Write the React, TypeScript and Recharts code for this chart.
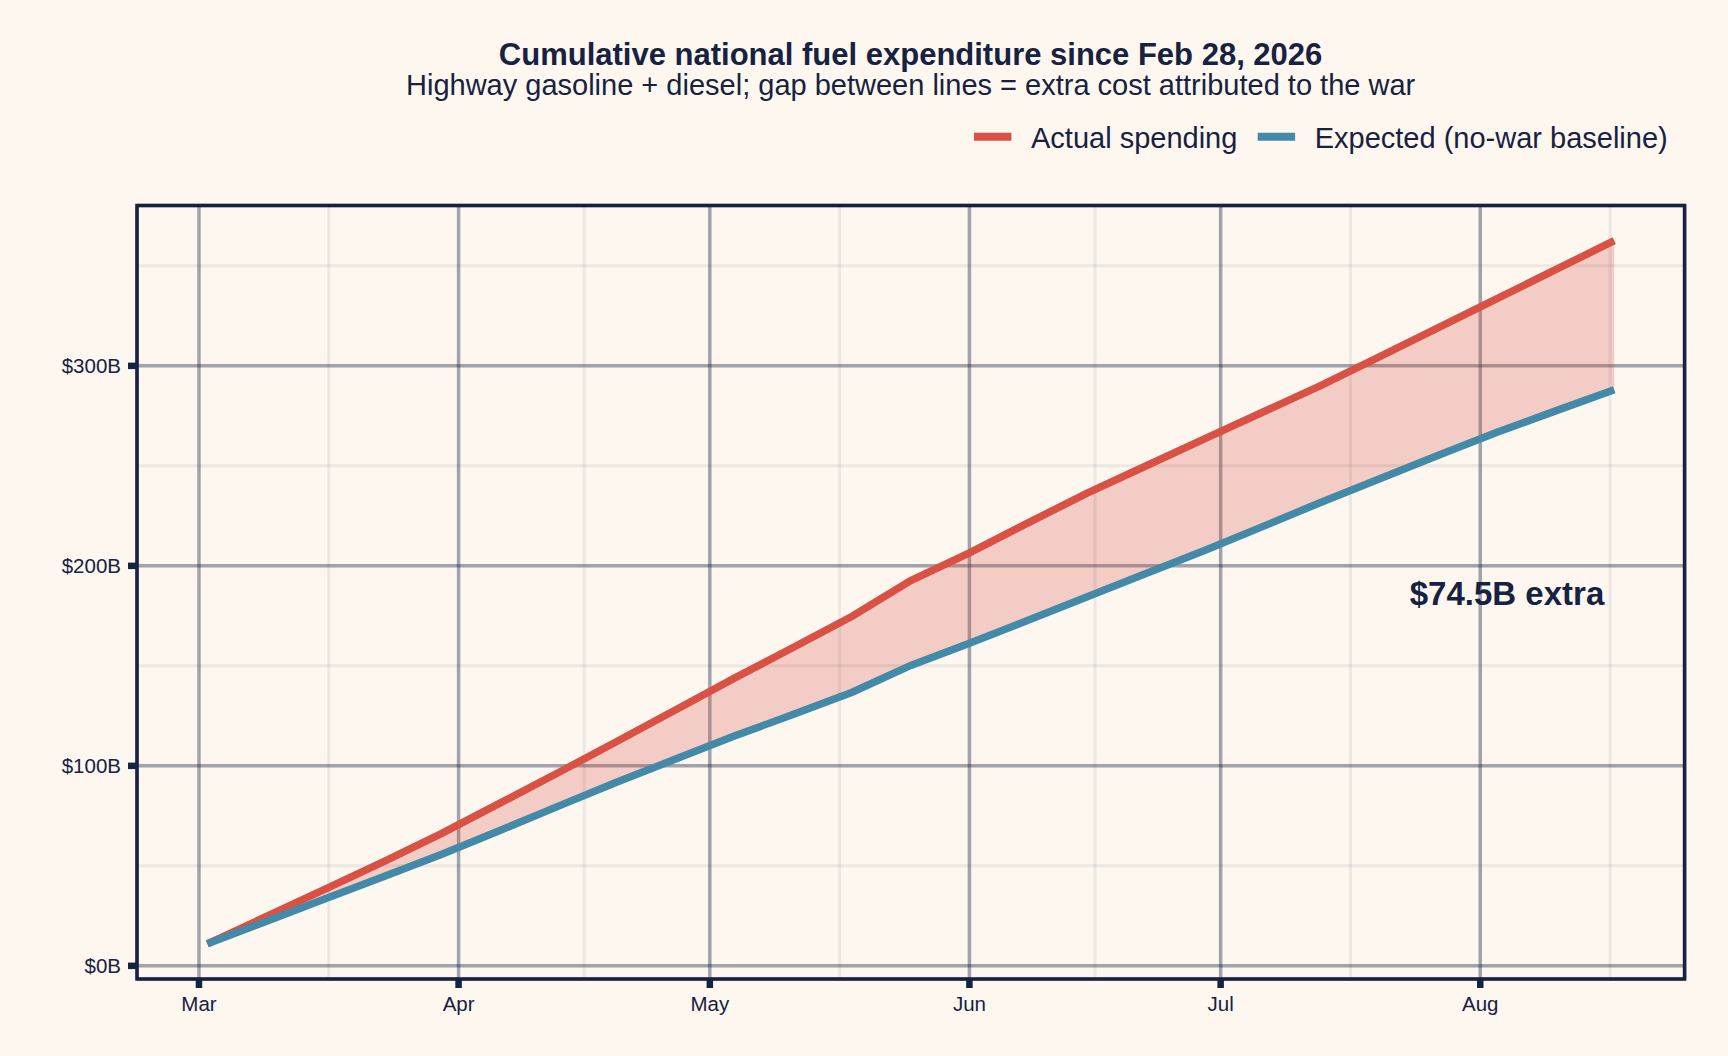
import {
  ComposedChart,
  Area,
  Line,
  XAxis,
  YAxis,
  CartesianGrid,
  ReferenceLine,
  ReferenceArea,
  ReferenceDot,
} from "recharts";

// weekly cumulative spending, $ billions
const weekDates = [
  "2026-03-02", "2026-03-09", "2026-03-16", "2026-03-23", "2026-03-30",
  "2026-04-06", "2026-04-13", "2026-04-20", "2026-04-27", "2026-05-04",
  "2026-05-11", "2026-05-18", "2026-05-25", "2026-06-01", "2026-06-08",
  "2026-06-15", "2026-06-22", "2026-06-29", "2026-07-06", "2026-07-13",
  "2026-07-20", "2026-07-27", "2026-08-03", "2026-08-10", "2026-08-17",
];

const actualSpending = [
  11.0, 24.6, 38.2, 52.0, 66.2, 81.5, 96.8, 112.4, 128.2, 144.0, 159.3, 174.8,
  192.6, 206.5, 221.5, 236.2, 249.8, 263.4, 276.8, 290.2, 304.6, 319.1, 333.6,
  348.1, 362.6,
];

const expectedBaseline = [
  11.0, 22.2, 33.4, 44.6, 55.8, 67.8, 80.0, 92.0, 103.5, 115.0, 125.8, 136.8,
  150.2, 161.3, 172.8, 184.4, 196.0, 207.6, 219.6, 231.8, 243.6, 255.3, 266.8,
  277.5, 288.1,
];

const monthTicks = [
  "2026-03-01", "2026-04-01", "2026-05-01", "2026-06-01", "2026-07-01", "2026-08-01",
];
const monthLabels = ["Mar", "Apr", "May", "Jun", "Jul", "Aug"];
const midMonthTicks = [
  "2026-03-16T12:00:00Z", "2026-04-16T00:00:00Z", "2026-05-16T12:00:00Z",
  "2026-06-16T00:00:00Z", "2026-07-16T12:00:00Z", "2026-08-16T12:00:00Z",
];
const valueTicks = [0, 100, 200, 300];
const minorValueTicks = [50, 150, 250, 350];

const seriesNames = ["Actual spending", "Expected (no-war baseline)"];
const annotationY = 186;

const NAVY = "#162240";
const RED = "#D95044";
const BLUE = "#4389A8";
const BG = "#FDF7F0";
const FONT = "'Liberation Sans', Arial, Helvetica, sans-serif";

const toTime = (s: string) => Date.parse(s.length === 10 ? s + "T00:00:00Z" : s);

const rows = weekDates.map((d, i) => ({
  t: toTime(d),
  actual: actualSpending[i],
  expected: expectedBaseline[i],
}));

const tFirst = rows[0].t;
const tLast = rows[rows.length - 1].t;
const xPad = (tLast - tFirst) * 0.05;
const xDomain = [tFirst - xPad, tLast + xPad];

const vMin = Math.min(...actualSpending, ...expectedBaseline);
const vMax = Math.max(...actualSpending, ...expectedBaseline);
const yPad = (vMax - vMin) * 0.05;
const yDomain = [vMin - yPad, vMax + yPad];

const monthTickTimes = monthTicks.map(toTime);
const monthName = (t: number) => monthLabels[monthTickTimes.indexOf(t)] ?? "";

const extra = (actualSpending[actualSpending.length - 1] -
  expectedBaseline[expectedBaseline.length - 1]).toFixed(1);

const legendX = [974, 1257.7];
const colors = [RED, BLUE];

function App() {
  return (
    <div
      style={{
        position: "absolute",
        left: 0,
        top: 0,
        width: 1728,
        height: 1056,
        background: BG,
        fontFamily: FONT,
      }}
    >
      <ComposedChart
        width={1728}
        height={1056}
        data={rows}
        margin={{ top: 205.5, right: 43.4, bottom: 0, left: 0 }}
      >
        <CartesianGrid
          stroke={NAVY}
          strokeOpacity={0.4}
          strokeWidth={3.5}
        />
        {midMonthTicks.map((d) => (
          <ReferenceLine
            key={d}
            x={toTime(d)}
            stroke={NAVY}
            strokeOpacity={0.07}
            strokeWidth={3}
          />
        ))}
        {minorValueTicks.map((v) => (
          <ReferenceLine
            key={v}
            y={v}
            stroke={NAVY}
            strokeOpacity={0.07}
            strokeWidth={3}
          />
        ))}
        <XAxis
          dataKey="t"
          type="number"
          domain={xDomain}
          ticks={monthTickTimes}
          tickFormatter={monthName}
          height={77}
          axisLine={false}
          tickSize={9}
          tickMargin={8}
          tickLine={{ stroke: NAVY, strokeWidth: 6.5 }}
          tick={{ fill: NAVY, fontSize: 20.5, fontFamily: FONT }}
          allowDataOverflow
        />
        <YAxis
          type="number"
          domain={yDomain}
          ticks={valueTicks}
          tickFormatter={(v) => `$${v}B`}
          width={137}
          axisLine={false}
          tickSize={9}
          tickMargin={7}
          tickLine={{ stroke: NAVY, strokeWidth: 6.5 }}
          tick={{ fill: NAVY, fontSize: 20.5, fontFamily: FONT }}
          allowDataOverflow
        />
        <Area
          type="linear"
          dataKey={(r) => [r.expected, r.actual]}
          stroke="none"
          fill={RED}
          fillOpacity={0.25}
          legendType="none"
          isAnimationActive={false}
        />
        <Line
          type="linear"
          dataKey="actual"
          name={seriesNames[0]}
          stroke={RED}
          strokeWidth={7.5}
          dot={false}
          activeDot={false}
          isAnimationActive={false}
        />
        <Line
          type="linear"
          dataKey="expected"
          name={seriesNames[1]}
          stroke={BLUE}
          strokeWidth={7.5}
          dot={false}
          activeDot={false}
          isAnimationActive={false}
        />
        <ReferenceArea
          x1={xDomain[0]}
          x2={xDomain[1]}
          y1={yDomain[0]}
          y2={yDomain[1]}
          fill="none"
          fillOpacity={0}
          stroke={NAVY}
          strokeWidth={3.5}
          ifOverflow="visible"
        />
        <ReferenceDot
          x={tLast}
          y={annotationY}
          ifOverflow="visible"
          shape={(p: any) => (
            <text
              x={p.cx - 10}
              y={p.cy}
              textAnchor="end"
              dominantBaseline="central"
              fill={NAVY}
              fontSize={33}
              fontWeight="bold"
              fontFamily={FONT}
            >
              {`$${extra}B extra`}
            </text>
          )}
        />
      </ComposedChart>

      <svg
        width={1728}
        height={200}
        style={{ position: "absolute", left: 0, top: 0, pointerEvents: "none" }}
      >
        <text
          x={910.6}
          y={65}
          textAnchor="middle"
          fill={NAVY}
          fontSize={31}
          fontWeight="bold"
          fontFamily={FONT}
        >
          Cumulative national fuel expenditure since Feb 28, 2026
        </text>
        <text
          x={910.6}
          y={95}
          textAnchor="middle"
          fill={NAVY}
          fontSize={29}
          fontFamily={FONT}
        >
          Highway gasoline + diesel; gap between lines = extra cost attributed to the war
        </text>
        {seriesNames.map((name, i) => (
          <g key={name}>
            <line
              x1={legendX[i]}
              x2={legendX[i] + 37.4}
              y1={136.7}
              y2={136.7}
              stroke={colors[i]}
              strokeWidth={8}
            />
            <text
              x={legendX[i] + 57}
              y={148.3}
              fill={NAVY}
              fontSize={29}
              fontFamily={FONT}
            >
              {name}
            </text>
          </g>
        ))}
      </svg>
    </div>
  );
}

export default App;
